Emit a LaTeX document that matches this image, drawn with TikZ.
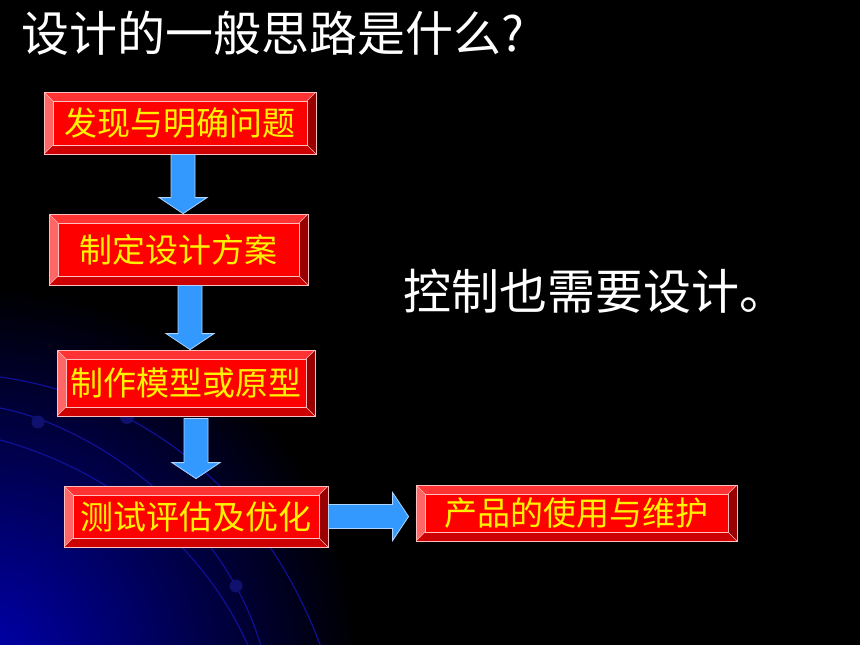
\documentclass[tikz,border=0pt]{standalone}
\usepackage{fontspec}
\newfontfamily\cjk{Noto Sans CJK SC}
\usetikzlibrary{calc}
\definecolor{bgblue}{RGB}{0,0,175}
\definecolor{arcblue}{RGB}{16,16,150}
\definecolor{dotblue}{RGB}{16,16,110}
\definecolor{boxface}{RGB}{255,0,0}
\definecolor{bevtop}{RGB}{255,51,51}
\definecolor{bevleft}{RGB}{255,102,102}
\definecolor{bevright}{RGB}{153,0,0}
\definecolor{bevbottom}{RGB}{204,0,0}
\definecolor{boxedge}{RGB}{255,190,190}
\definecolor{arrowblue}{RGB}{51,153,255}
\definecolor{arrowedge}{RGB}{175,212,255}
\begin{document}
\begin{tikzpicture}[x=1pt,y=-1pt,
    headline/.style={text=white, font=\cjk\fontsize{48}{52}\selectfont, inner sep=0pt, anchor=west},
    arcline/.style={draw=arcblue, line width=1.2pt},
    stepbox/.style={rectangle, fill=boxface, draw=boxedge, line width=0.8pt, inner sep=0pt,
      text=yellow, font=\cjk\fontsize{33}{36}\selectfont,
      path picture={
        \coordinate (bnw) at (path picture bounding box.north west);
        \coordinate (bne) at (path picture bounding box.north east);
        \coordinate (bsw) at (path picture bounding box.south west);
        \coordinate (bse) at (path picture bounding box.south east);
        \coordinate (inw) at ([shift={(9pt,-9pt)}]bnw);
        \coordinate (ine) at ([shift={(-9pt,-9pt)}]bne);
        \coordinate (isw) at ([shift={(9pt,9pt)}]bsw);
        \coordinate (ise) at ([shift={(-9pt,9pt)}]bse);
        \fill[bevtop] (bnw) -- (bne) -- (ine) -- (inw) -- cycle;
        \fill[bevleft] (bnw) -- (bsw) -- (isw) -- (inw) -- cycle;
        \fill[bevright] (bne) -- (bse) -- (ise) -- (ine) -- cycle;
        \fill[bevbottom] (bsw) -- (bse) -- (ise) -- (isw) -- cycle;
        \draw[boxedge, line width=0.6pt] (inw) rectangle (ise);
        \draw[boxedge, line width=0.6pt] (bnw) -- (inw) (bne) -- (ine) (bsw) -- (isw) (bse) -- (ise);
      }},
    flowarrow/.style={draw=arrowedge, fill=arrowblue, line width=0.8pt, line join=miter,
      to path={let \p1=(\tikztostart), \p2=(\tikztotarget),
        \n1={veclen(\x2-\x1,\y2-\y1)}, \n2={atan2(\y2-\y1,\x2-\x1)} in
        [shift={(\p1)}, rotate=\n2]
        (0,-12pt) -- (\n1-16pt,-12pt) -- (\n1-16pt,-24pt) -- (\n1,0) --
        (\n1-16pt,24pt) -- (\n1-16pt,12pt) -- (0,12pt) -- cycle}}]

  \useasboundingbox (0,0) rectangle (860,645);
  \fill[black] (0,0) rectangle (860,645);

  % background corner
  \begin{scope}
    \clip (0,0) rectangle (860,645);
    \shade[inner color=bgblue, outer color=black] (-20,665) circle (380pt);
    \draw[arcline] (0,408) .. controls (90,425) and (225,515) .. (262,650);
    \draw[arcline] (0,377) .. controls (130,395) and (260,480) .. (322,650);
    \draw[arcline] (0,440) .. controls (110,470) and (205,545) .. (250,650);
    \fill[dotblue] (38,422) circle (6.5pt);
    \fill[dotblue] (127,417) circle (7pt);
    \fill[dotblue] (236,586) circle (6.5pt);
  \end{scope}

  \node[headline] (title) at (21.5,33) {设计的一般思路是什么?};
  \node[headline] (note) at (403,291) {控制也需要设计。};

  \node[stepbox, minimum width=272pt, minimum height=62pt] (find) at (180,123) {发现与明确问题};
  \node[stepbox, minimum width=259pt, minimum height=71pt] (plan) at (178.5,249.5) {制定设计方案};
  \node[stepbox, minimum width=258pt, minimum height=66pt] (model) at (186,383) {制作模型或原型};
  \node[stepbox, minimum width=264pt, minimum height=61pt] (test) at (196,516.5) {测试评估及优化};
  \node[stepbox, minimum width=321pt, minimum height=56pt] (use) at (576.5,513) {产品的使用与维护};

  \draw[flowarrow] ($(find.south)+(3pt,0)$) to ($(find.south |- plan.north)+(3pt,0)$);
  \draw[flowarrow] ($(plan.south)+(11.5pt,0)$) to ($(plan.south |- model.north)+(11.5pt,0)$);
  \draw[flowarrow] ($(model.south)+(10pt,-2pt)$) to ($(model.south |- test.north)+(10pt,7pt)$);
  \draw[flowarrow] (test.east) to ($(use.west |- test.east)+(-7pt,0)$);
\end{tikzpicture}
\end{document}
